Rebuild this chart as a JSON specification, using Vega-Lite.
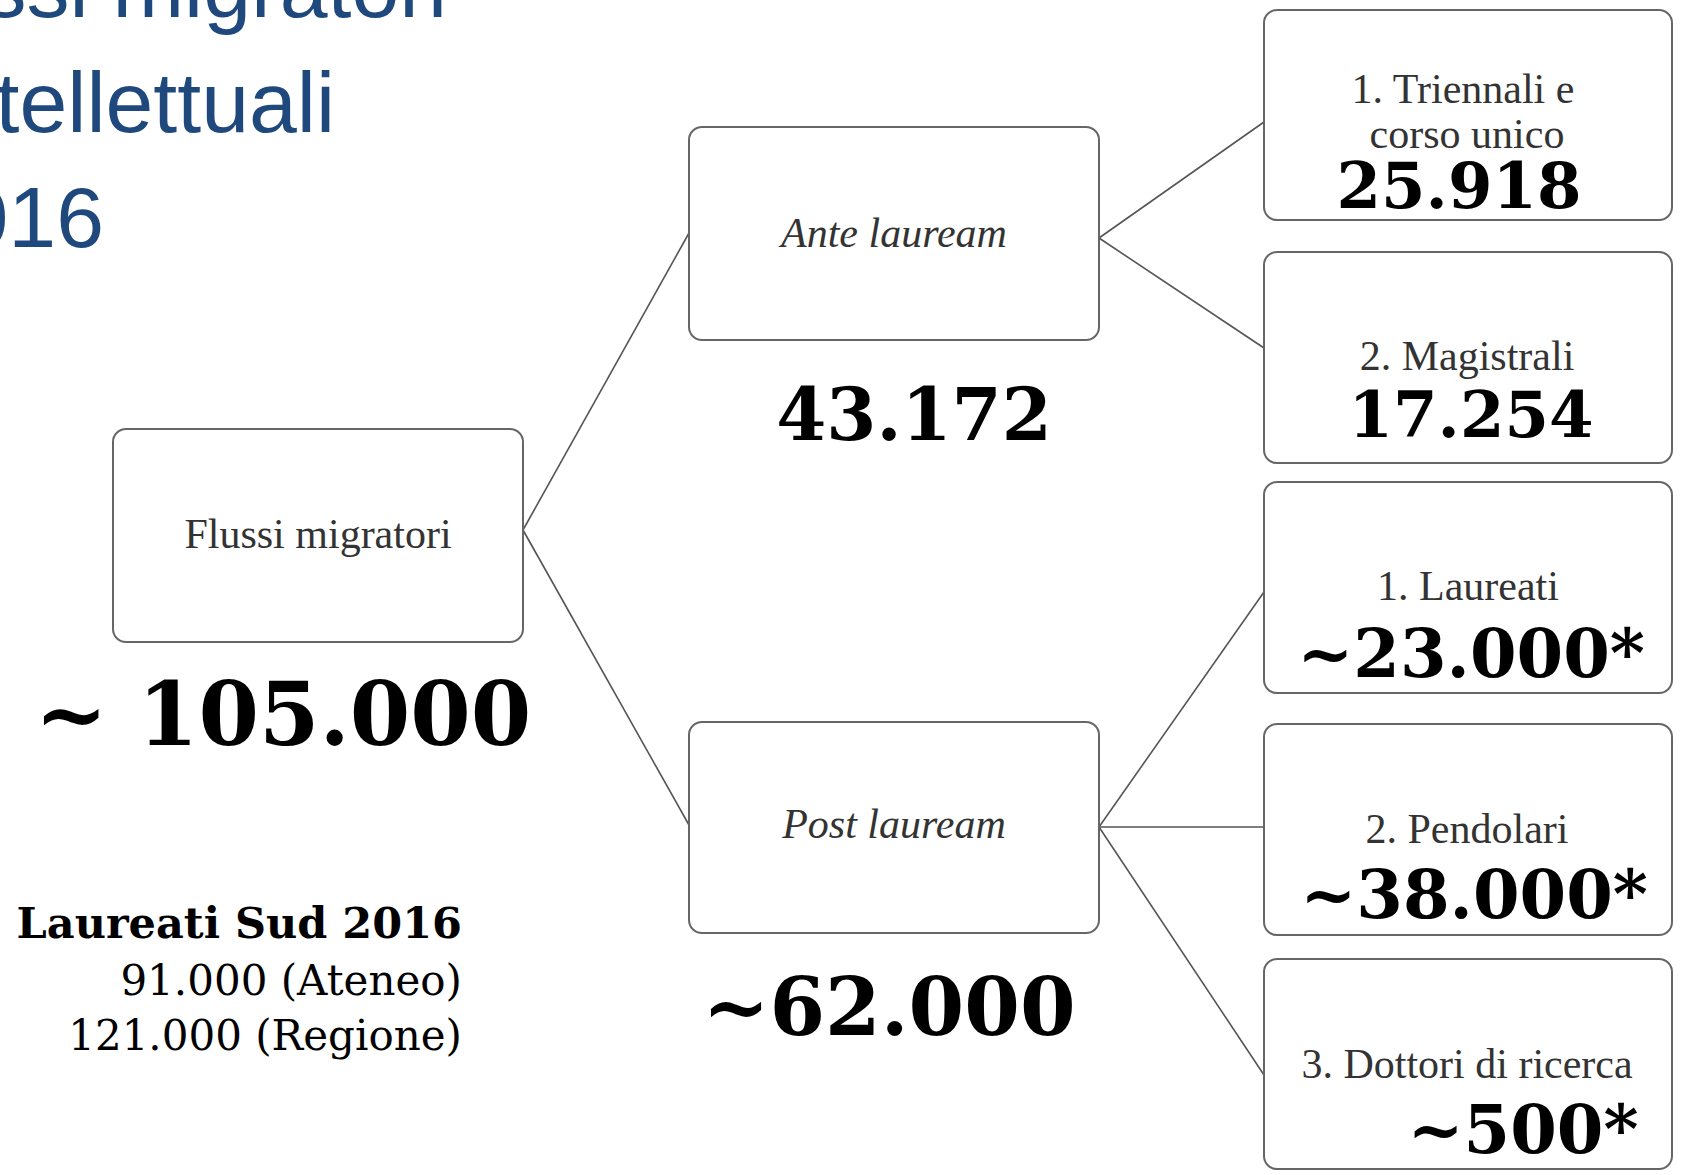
{
  "$schema": "https://vega.github.io/schema/vega-lite/v6.json",
  "width": 1681,
  "height": 1175,
  "padding": 0,
  "autosize": {"type": "fit", "contains": "padding"},
  "background": "white",
  "config": {"view": {"stroke": null}},
  "datasets": {
    "boxes": [
      {"id": "Flussi migratori", "x1": 113, "x2": 523, "y1": 429, "y2": 642},
      {"id": "Ante lauream", "x1": 689, "x2": 1099, "y1": 127, "y2": 340},
      {"id": "Post lauream", "x1": 689, "x2": 1099, "y1": 722, "y2": 933},
      {"id": "Triennali e corso unico", "x1": 1264, "x2": 1672, "y1": 10, "y2": 220},
      {"id": "Magistrali", "x1": 1264, "x2": 1672, "y1": 252, "y2": 463},
      {"id": "Laureati", "x1": 1264, "x2": 1672, "y1": 482, "y2": 693},
      {"id": "Pendolari", "x1": 1264, "x2": 1672, "y1": 724, "y2": 935},
      {"id": "Dottori di ricerca", "x1": 1264, "x2": 1672, "y1": 959, "y2": 1169}
    ],
    "links": [
      {"from": "Flussi migratori", "to": "Ante lauream", "x1": 523, "y1": 530, "x2": 689, "y2": 233},
      {"from": "Flussi migratori", "to": "Post lauream", "x1": 523, "y1": 530, "x2": 689, "y2": 825},
      {"from": "Ante lauream", "to": "Triennali e corso unico", "x1": 1099, "y1": 238, "x2": 1264, "y2": 122},
      {"from": "Ante lauream", "to": "Magistrali", "x1": 1099, "y1": 238, "x2": 1264, "y2": 348},
      {"from": "Post lauream", "to": "Laureati", "x1": 1099, "y1": 827, "x2": 1264, "y2": 592},
      {"from": "Post lauream", "to": "Pendolari", "x1": 1099, "y1": 827, "x2": 1264, "y2": 827},
      {"from": "Post lauream", "to": "Dottori di ricerca", "x1": 1099, "y1": 827, "x2": 1264, "y2": 1075}
    ],
    "texts": [
      {"role": "title", "text": "Flussi migratori", "x": 447, "y": 17},
      {"role": "title", "text": "intellettuali", "x": 335, "y": 132},
      {"role": "title", "text": "2016", "x": 104, "y": 247},
      {"role": "label", "text": "Flussi migratori", "x": 318, "y": 548},
      {"role": "label", "text": "1. Triennali e", "x": 1463, "y": 103},
      {"role": "label", "text": "corso unico", "x": 1467, "y": 148},
      {"role": "label", "text": "2. Magistrali", "x": 1467, "y": 370},
      {"role": "label", "text": "1. Laureati", "x": 1468, "y": 600},
      {"role": "label", "text": "2. Pendolari", "x": 1467, "y": 843},
      {"role": "label", "text": "3. Dottori di ricerca", "x": 1467, "y": 1078},
      {"role": "italic", "text": "Ante lauream", "x": 894, "y": 247},
      {"role": "italic", "text": "Post lauream", "x": 894, "y": 838},
      {"role": "boxnum", "text": "25.918", "x": 1459, "y": 208},
      {"role": "boxnum", "text": "17.254", "x": 1471, "y": 437},
      {"role": "boxapprox", "text": "~23.000*", "x": 1471, "y": 677},
      {"role": "boxapprox", "text": "~38.000*", "x": 1474, "y": 918},
      {"role": "boxapprox", "text": "~500*", "x": 1523, "y": 1153},
      {"role": "mid", "text": "43.172", "x": 914, "y": 440},
      {"role": "big", "text": "~62.000", "x": 889, "y": 1035},
      {"role": "huge", "text": "~ 105.000", "x": 283, "y": 745},
      {"role": "notebold", "text": "Laureati Sud 2016", "x": 462, "y": 938},
      {"role": "note", "text": "91.000 (Ateneo)", "x": 462, "y": 995},
      {"role": "note", "text": "121.000 (Regione)", "x": 462, "y": 1050}
    ]
  },
  "layer": [
    {
      "data": {"name": "links"},
      "mark": {"type": "rule", "stroke": "#555555", "strokeWidth": 1.6},
      "encoding": {
        "x": {"field": "x1", "type": "quantitative", "scale": {"domain": [0, 1681], "nice": false, "zero": false}, "axis": null},
        "y": {"field": "y1", "type": "quantitative", "scale": {"domain": [0, 1175], "nice": false, "zero": false, "reverse": true}, "axis": null},
        "x2": {"field": "x2"},
        "y2": {"field": "y2"}
      }
    },
    {
      "data": {"name": "boxes"},
      "mark": {"type": "rect", "fill": "white", "stroke": "#666666", "strokeWidth": 2, "cornerRadius": 13},
      "encoding": {
        "x": {"field": "x1", "type": "quantitative", "axis": null},
        "x2": {"field": "x2"},
        "y": {"field": "y1", "type": "quantitative", "axis": null},
        "y2": {"field": "y2"}
      }
    },
    {
      "data": {"name": "texts"},
      "transform": [{"filter": "datum.role === 'title'"}],
      "mark": {"type": "text", "clip": true, "align": "right", "baseline": "alphabetic", "font": "Liberation Sans Narrow, Liberation Sans, sans-serif", "fontSize": 86, "color": "#1F497D"},
      "encoding": {
        "x": {"field": "x", "type": "quantitative", "axis": null},
        "y": {"field": "y", "type": "quantitative", "axis": null},
        "text": {"field": "text"}
      }
    },
    {
      "data": {"name": "texts"},
      "transform": [{"filter": "datum.role === 'label'"}],
      "mark": {"type": "text", "align": "center", "baseline": "alphabetic", "font": "Liberation Serif", "fontSize": 42, "color": "#333333"},
      "encoding": {
        "x": {"field": "x", "type": "quantitative", "axis": null},
        "y": {"field": "y", "type": "quantitative", "axis": null},
        "text": {"field": "text"}
      }
    },
    {
      "data": {"name": "texts"},
      "transform": [{"filter": "datum.role === 'italic'"}],
      "mark": {"type": "text", "align": "center", "baseline": "alphabetic", "font": "Liberation Serif", "fontStyle": "italic", "fontSize": 42, "color": "#333333"},
      "encoding": {
        "x": {"field": "x", "type": "quantitative", "axis": null},
        "y": {"field": "y", "type": "quantitative", "axis": null},
        "text": {"field": "text"}
      }
    },
    {
      "data": {"name": "texts"},
      "transform": [{"filter": "datum.role === 'boxnum'"}],
      "mark": {"type": "text", "align": "center", "baseline": "alphabetic", "font": "DejaVu Serif", "fontWeight": "bold", "fontSize": 64, "color": "black"},
      "encoding": {
        "x": {"field": "x", "type": "quantitative", "axis": null},
        "y": {"field": "y", "type": "quantitative", "axis": null},
        "text": {"field": "text"}
      }
    },
    {
      "data": {"name": "texts"},
      "transform": [{"filter": "datum.role === 'boxapprox'"}],
      "mark": {"type": "text", "align": "center", "baseline": "alphabetic", "font": "DejaVu Serif", "fontWeight": "bold", "fontSize": 67, "color": "black"},
      "encoding": {
        "x": {"field": "x", "type": "quantitative", "axis": null},
        "y": {"field": "y", "type": "quantitative", "axis": null},
        "text": {"field": "text"}
      }
    },
    {
      "data": {"name": "texts"},
      "transform": [{"filter": "datum.role === 'mid'"}],
      "mark": {"type": "text", "align": "center", "baseline": "alphabetic", "font": "DejaVu Serif", "fontWeight": "bold", "fontSize": 72, "color": "black"},
      "encoding": {
        "x": {"field": "x", "type": "quantitative", "axis": null},
        "y": {"field": "y", "type": "quantitative", "axis": null},
        "text": {"field": "text"}
      }
    },
    {
      "data": {"name": "texts"},
      "transform": [{"filter": "datum.role === 'big'"}],
      "mark": {"type": "text", "align": "center", "baseline": "alphabetic", "font": "DejaVu Serif", "fontWeight": "bold", "fontSize": 80, "color": "black"},
      "encoding": {
        "x": {"field": "x", "type": "quantitative", "axis": null},
        "y": {"field": "y", "type": "quantitative", "axis": null},
        "text": {"field": "text"}
      }
    },
    {
      "data": {"name": "texts"},
      "transform": [{"filter": "datum.role === 'huge'"}],
      "mark": {"type": "text", "align": "center", "baseline": "alphabetic", "font": "DejaVu Serif", "fontWeight": "bold", "fontSize": 87, "color": "black"},
      "encoding": {
        "x": {"field": "x", "type": "quantitative", "axis": null},
        "y": {"field": "y", "type": "quantitative", "axis": null},
        "text": {"field": "text"}
      }
    },
    {
      "data": {"name": "texts"},
      "transform": [{"filter": "datum.role === 'notebold'"}],
      "mark": {"type": "text", "align": "right", "baseline": "alphabetic", "font": "DejaVu Serif", "fontWeight": "bold", "fontSize": 43, "color": "black"},
      "encoding": {
        "x": {"field": "x", "type": "quantitative", "axis": null},
        "y": {"field": "y", "type": "quantitative", "axis": null},
        "text": {"field": "text"}
      }
    },
    {
      "data": {"name": "texts"},
      "transform": [{"filter": "datum.role === 'note'"}],
      "mark": {"type": "text", "align": "right", "baseline": "alphabetic", "font": "DejaVu Serif", "fontSize": 42, "color": "black"},
      "encoding": {
        "x": {"field": "x", "type": "quantitative", "axis": null},
        "y": {"field": "y", "type": "quantitative", "axis": null},
        "text": {"field": "text"}
      }
    }
  ]
}
